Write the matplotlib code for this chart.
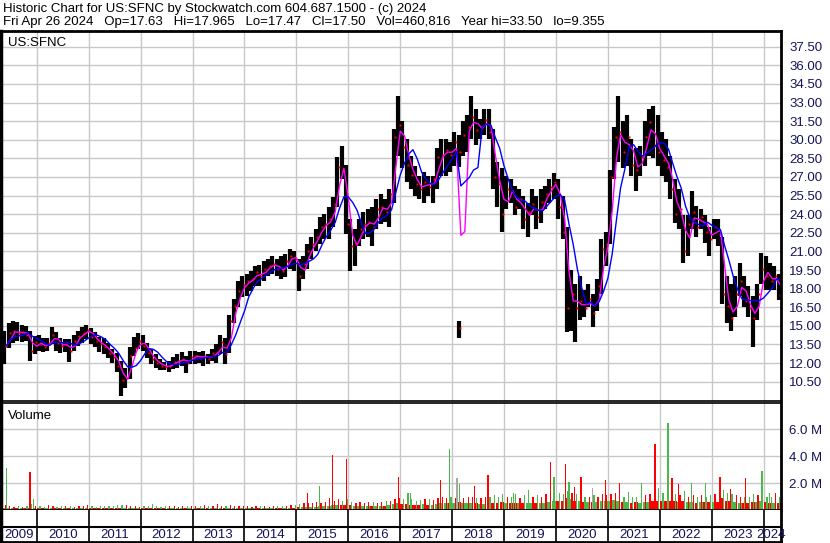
import numpy as np
import pandas as pd
import matplotlib
matplotlib.use("Agg")
import matplotlib.pyplot as plt

plt.rcParams["font.family"] = ["Liberation Sans", "DejaVu Sans"]

# monthly bars, May 2009 .. Apr 2024
hi = [14.6, 15.2, 15.4, 15.3, 15.1, 15.0, 14.6, 14.2,
      14.3, 14.0, 14.0, 14.9, 14.5, 14.0, 13.9, 13.9, 14.3, 14.6, 14.9, 15.1,
      14.8, 14.5, 14.1, 14.0, 13.6, 13.1, 12.8, 12.2, 11.6, 13.3, 14.1, 14.4,
      14.3, 13.6, 13.1, 12.7, 12.3, 12.1, 12.2, 12.5, 12.7, 12.9, 12.6, 13.0,
      13.0, 12.9, 13.0, 12.7, 13.1, 13.5, 14.3, 14.0, 15.9, 17.2, 18.6, 19.0,
      19.2, 19.4, 19.8, 19.9, 20.2, 20.4, 20.6, 20.4, 20.6, 20.8, 21.2, 21.0,
      20.4, 20.6, 21.6, 22.2, 22.8, 23.8, 24.0, 24.6, 25.4, 28.6, 29.5, 28.0,
      23.6, 22.8, 23.6, 24.2, 24.4, 24.6, 25.2, 25.6, 25.2, 26.0, 30.9, 33.5,
      31.5, 30.1, 28.7, 27.9, 27.1, 27.4, 27.1, 27.1, 29.3, 30.1, 30.1, 29.8,
      30.6, 30.4, 31.5, 32.0, 33.5, 32.5, 31.7, 32.5, 32.5, 30.9, 28.2, 27.7,
      27.1, 26.8, 26.3, 26.0, 25.5, 24.9, 26.0, 25.5, 26.0, 26.3, 26.8, 27.3,
      26.8, 25.5, 23.0, 19.5, 18.4, 19.0, 17.9, 18.4, 17.6, 18.8, 22.0, 22.6,
      27.6, 31.0, 33.5, 31.5, 32.0, 30.1, 29.3, 29.5, 31.5, 32.5, 32.7, 32.0,
      30.6, 30.1, 28.7, 26.8, 26.0, 23.9, 23.9, 25.9, 24.7, 24.4, 23.9, 23.0,
      23.6, 23.6, 22.2, 19.0, 18.4, 19.0, 20.1, 19.0, 18.2, 17.4, 18.4, 20.9,
      20.6, 20.1, 19.8, 19.2]
lo = [11.9, 13.2, 13.6, 13.8, 13.7, 13.8, 12.2, 12.7,
      13.0, 12.9, 13.0, 13.5, 13.0, 12.8, 12.9, 12.1, 13.0, 13.4, 13.6, 13.9,
      13.5, 13.3, 12.9, 12.7, 12.4, 12.0, 11.3, 9.355, 10.0, 10.7, 12.6, 13.1,
      13.0, 12.4, 11.9, 11.6, 11.4, 11.4, 11.3, 11.5, 11.6, 11.8, 11.2, 11.9,
      11.9, 12.0, 11.8, 11.9, 12.2, 12.0, 12.7, 11.9, 12.8, 15.2, 16.5, 17.3,
      17.4, 17.8, 18.2, 18.2, 18.6, 19.0, 19.2, 19.0, 18.8, 18.9, 19.6, 19.4,
      17.8, 18.8, 19.6, 20.4, 21.0, 21.6, 22.0, 22.0, 23.0, 24.6, 26.8, 22.4,
      19.4, 19.8, 21.4, 22.0, 22.2, 21.4, 22.8, 23.2, 23.4, 23.0, 24.9, 28.7,
      27.7, 26.6, 26.0, 25.5, 25.2, 24.9, 25.5, 24.9, 26.0, 27.1, 27.1, 27.4,
      27.9, 27.8, 28.7, 29.0, 30.1, 29.6, 30.1, 30.4, 30.1, 26.0, 24.6, 22.6,
      24.4, 24.9, 23.9, 24.4, 22.8, 22.2, 23.9, 22.8, 23.3, 24.4, 24.9, 25.2,
      23.6, 22.0, 14.5, 14.6, 13.7, 15.5, 15.7, 16.5, 14.9, 16.2, 17.6, 19.8,
      21.6, 26.8, 28.2, 27.7, 27.9, 27.1, 25.9, 27.1, 27.9, 28.7, 28.5, 27.9,
      27.1, 26.6, 25.2, 23.3, 22.8, 20.1, 20.6, 22.8, 22.2, 22.8, 21.7, 20.6,
      22.0, 21.4, 16.8, 15.2, 14.6, 15.7, 17.4, 16.5, 15.7, 13.3, 15.5, 18.4,
      17.9, 17.9, 17.9, 17.1]
cl = [13.4, 14.4, 14.6, 14.4, 14.5, 14.3, 13.0, 13.7,
      13.5, 13.3, 13.6, 14.3, 13.6, 13.4, 13.5, 13.0, 13.8, 14.2, 14.4, 14.7,
      14.1, 13.8, 13.5, 13.3, 12.8, 12.5, 11.8, 10.6, 10.8, 12.6, 13.2, 13.8,
      13.4, 12.8, 12.3, 12.0, 11.8, 11.7, 11.8, 12.1, 12.2, 12.3, 12.0, 12.5,
      12.6, 12.4, 12.6, 12.3, 12.8, 12.9, 13.7, 12.7, 15.4, 16.6, 17.8, 18.3,
      18.6, 18.8, 19.3, 19.0, 19.6, 19.8, 20.0, 19.6, 19.4, 20.2, 20.6, 20.4,
      19.0, 20.0, 21.0, 21.6, 22.2, 23.0, 23.2, 23.6, 24.8, 27.8, 27.6, 23.2,
      21.4, 21.6, 22.8, 23.2, 23.4, 23.0, 24.4, 24.6, 24.2, 25.6, 30.2, 31.2,
      29.4, 28.0, 27.2, 26.4, 26.0, 26.6, 26.2, 26.8, 28.6, 28.8, 29.2, 28.8,
      29.8, 29.0, 30.4, 31.0, 31.8, 30.8, 31.0, 31.6, 30.6, 27.0, 26.4, 24.0,
      26.0, 25.8, 24.6, 25.2, 23.6, 24.2, 24.8, 23.8, 25.0, 25.6, 26.2, 26.6,
      24.6, 22.6, 16.4, 17.6, 16.4, 17.0, 16.4, 17.2, 16.0, 18.2, 21.2, 21.6,
      27.0, 30.2, 30.6, 29.0, 30.2, 28.0, 27.6, 28.6, 30.2, 31.4, 29.6, 29.0,
      28.4, 27.8, 26.0, 24.0, 24.4, 21.0, 23.2, 24.2, 23.0, 23.8, 22.6, 22.0,
      23.0, 22.4, 17.6, 16.6, 15.6, 17.6, 18.6, 17.0, 16.4, 15.6, 17.6, 19.6,
      19.0, 18.6, 19.0, 17.5]

# bad prints in Feb 2018 (hi, lo, close)
bad_month = "2018-02"
bad_hi, bad_lo, bad_cl = 15.4, 14.0, 14.8

# monthly typical volume and busiest ordinary day (millions)
vol = [0.15, 0.15, 0.12, 0.12, 0.12, 0.12, 0.15, 0.12,
       0.12, 0.12, 0.12, 0.12, 0.12, 0.12, 0.12, 0.12, 0.12, 0.12, 0.12, 0.12,
       0.12, 0.12, 0.12, 0.12, 0.12, 0.12, 0.15, 0.18, 0.15, 0.12, 0.12, 0.12,
       0.12, 0.12, 0.12, 0.12, 0.12, 0.12, 0.12, 0.12, 0.12, 0.12, 0.12, 0.12,
       0.12, 0.12, 0.12, 0.12, 0.12, 0.12, 0.12, 0.15, 0.15, 0.15, 0.15, 0.15,
       0.15, 0.15, 0.15, 0.15, 0.15, 0.15, 0.15, 0.15, 0.15, 0.18, 0.18, 0.18,
       0.25, 0.25, 0.25, 0.25, 0.25, 0.3, 0.3, 0.3, 0.35, 0.4, 0.35, 0.4,
       0.35, 0.3, 0.3, 0.3, 0.3, 0.3, 0.3, 0.3, 0.3, 0.35, 0.45, 0.5,
       0.45, 0.45, 0.4, 0.4, 0.4, 0.45, 0.4, 0.4, 0.45, 0.5, 0.5, 0.5,
       0.5, 0.6, 0.5, 0.5, 0.5, 0.5, 0.45, 0.45, 0.5, 0.55, 0.55, 0.6,
       0.55, 0.5, 0.5, 0.5, 0.55, 0.55, 0.5, 0.55, 0.55, 0.55, 0.6, 0.65,
       0.65, 0.7, 0.9, 0.8, 0.7, 0.65, 0.6, 0.6, 0.6, 0.6, 0.7, 0.65,
       0.7, 0.75, 0.7, 0.6, 0.6, 0.55, 0.6, 0.55, 0.6, 0.6, 0.65, 0.7,
       0.7, 0.7, 0.7, 0.65, 0.6, 0.7, 0.6, 0.6, 0.55, 0.6, 0.6, 0.6,
       0.6, 0.6, 0.9, 0.7, 0.65, 0.6, 0.55, 0.55, 0.55, 0.6, 0.6, 0.65,
       0.6, 0.55, 0.55, 0.5]
vol_peak = [0.35, 0.3, 0.25, 0.3, 0.25, 0.3, 0.45, 0.3,
            0.3, 0.25, 0.35, 0.3, 0.25, 0.3, 0.3, 0.3, 0.25, 0.3, 0.3, 0.35,
            0.3, 0.25, 0.3, 0.3, 0.3, 0.3, 0.35, 0.4, 0.35, 0.3, 0.3, 0.25,
            0.3, 0.3, 0.45, 0.3, 0.25, 0.3, 0.3, 0.3, 0.25, 0.3, 0.3, 0.3,
            0.3, 0.3, 0.35, 0.3, 0.3, 0.45, 0.3, 0.3, 0.35, 0.3, 0.3, 0.3,
            0.3, 0.25, 0.3, 0.3, 0.3, 0.25, 0.3, 0.3, 0.3, 0.3, 0.35, 0.35,
            0.45, 0.5, 0.55, 0.5, 0.6, 0.55, 0.6, 0.9, 0.7, 0.8, 0.7, 0.8,
            0.6, 0.55, 0.6, 0.55, 0.6, 0.6, 0.55, 0.6, 0.65, 0.7, 0.8, 0.9,
            0.8, 1.3, 0.8, 0.7, 0.75, 0.8, 0.8, 0.75, 0.9, 1.0, 0.9, 1.0,
            0.9, 1.1, 0.9, 1.0, 1.0, 0.9, 0.9, 1.0, 1.0, 1.1, 1.0, 1.2,
            1.0, 1.0, 1.2, 0.9, 1.1, 1.3, 1.0, 1.1, 1.0, 1.2, 1.3, 1.4,
            1.3, 1.2, 1.4, 1.3, 1.2, 1.1, 1.0, 1.0, 1.1, 1.0, 1.2, 1.1,
            1.2, 1.3, 1.1, 1.0, 1.2, 1.0, 1.0, 1.0, 1.1, 1.2, 1.3, 1.6,
            1.3, 1.4, 1.3, 1.2, 1.1, 1.4, 1.0, 1.1, 1.0, 1.1, 1.0, 1.1,
            1.2, 1.1, 1.5, 1.3, 1.2, 1.1, 1.0, 1.0, 1.0, 1.2, 1.1, 1.3,
            1.0, 1.0, 1.3, 1.0]

# single-day volume spikes: (date, millions, colour)
spike_date = ["2009-06-01", "2009-11-15", "2009-12-10", "2015-03-20", "2015-06-15",
              "2015-09-12", "2015-12-20", "2016-12-18", "2017-03-15", "2017-10-12",
              "2017-12-15", "2018-02-05", "2018-02-20", "2018-06-05", "2018-09-10",
              "2019-03-08", "2019-06-20", "2019-11-25", "2019-12-18", "2020-03-08",
              "2020-04-01", "2020-05-10", "2020-06-25", "2020-09-12", "2020-12-15",
              "2021-03-25", "2021-05-25", "2021-08-25", "2021-11-28", "2022-02-28",
              "2022-03-28", "2022-05-15", "2022-08-10", "2022-11-18", "2023-03-01",
              "2023-05-15", "2023-08-25", "2023-12-20", "2024-02-10"]
spike_vol = [3.15, 2.84, 0.8, 1.24, 1.8, 4.08, 3.77, 2.45, 1.3, 2.2,
             4.55, 2.37, 1.94, 1.8, 2.63, 1.24, 1.47, 3.6, 2.45, 3.4,
             2.1, 1.68, 2.45, 1.6, 2.2, 2.0, 1.34, 2.0, 4.9, 6.5,
             2.37, 1.94, 2.0, 2.0, 2.45, 1.55, 2.37, 2.9, 1.3]
spike_col = ["g", "r", "g", "r", "g", "r", "r", "r", "g", "r",
             "g", "k", "g", "r", "r", "g", "g", "r", "g", "r",
             "g", "r", "r", "k", "r", "r", "g", "g", "r", "g",
             "r", "r", "g", "g", "r", "r", "r", "g", "g"]

years = list(range(2009, 2025))
price_ticks = [10.5, 12.0, 13.5, 15.0, 16.5, 18.0, 19.5, 21.0, 22.5, 24.0,
               25.5, 27.0, 28.5, 30.0, 31.5, 33.0, 34.5, 36.0, 37.5]
vol_ticks = [2.0, 4.0, 6.0]

title1 = "Historic Chart for US:SFNC by Stockwatch.com 604.687.1500 - (c) 2024"
title2 = ("Fri Apr 26 2024   Op=17.63   Hi=17.965   Lo=17.47   Cl=17.50   "
          "Vol=460,816   Year hi=33.50   lo=9.355")

COLS = {"g": "#4cb84c", "r": "#ff0000", "k": "#a8a8a8"}
GRID = "#c8c8c8"
TXT = "#14145a"


def yfrac(ts):
    ts = pd.DatetimeIndex(ts)
    return ts.year + (ts.dayofyear - 1) / 365.25


months = pd.period_range("2009-05", "2024-04", freq="M")
t = yfrac(months.to_timestamp(how="start")) + 1 / 24
df = pd.DataFrame({"hi": hi, "lo": lo, "cl": cl, "vol": vol, "peak": vol_peak},
                  index=months)
ma_src = df["cl"].copy()
ma_src[pd.Period(bad_month, "M")] = bad_cl
fast = ma_src.rolling(2, min_periods=1).mean()
slow = ma_src.rolling(5, min_periods=1).mean()
up = df["cl"].diff().fillna(0) >= 0

x0, x1 = 2009.31, 2024.335
W, H = 830, 543
fig = plt.figure(figsize=(W / 100, H / 100), dpi=100)
axp = fig.add_axes([1 / W, 1 - 401 / H, 780 / W, 370 / H])
axv = fig.add_axes([1 / W, 1 - 510 / H, 780 / W, 107 / H])
axd = fig.add_axes([1 / W, 1 - 542 / H, 780 / W, 32 / H])

# price panel
axp.vlines(t, df["lo"], df["hi"], color="black", lw=3.0)
axp.plot(t + 0.03, df["cl"], "s", color="red", ms=1.6, mec="none")
bi = months.get_loc(pd.Period(bad_month, "M"))
axp.vlines(t[bi], bad_lo, bad_hi, color="black", lw=3.0)
axp.plot(t[bi] + 0.03, bad_cl, "s", color="red", ms=1.6, mec="none")
axp.plot(t + 1 / 24, fast, color="#ff00ff", lw=1.0)
axp.plot(t + 1 / 24, slow, color="#0000ff", lw=1.0)
axp.set_ylim(8.94, 38.77)
axp.set_yticks(price_ticks)
axp.set_yticklabels([f"{v:.2f}" for v in price_ticks])
axp.text(0.009, 0.985, "US:SFNC", transform=axp.transAxes, ha="left", va="top",
         fontsize=9.5, color="black")

# volume panel
vcol = np.where(up, COLS["g"], COLS["r"])
pcol = np.where(up, COLS["r"], COLS["g"])
axv.bar(t, df["vol"], width=1 / 12 * 0.9, color=vcol)
axv.bar(t + 1 / 48, df["peak"], width=1 / 12 * 0.3, color=pcol)
st = yfrac(pd.to_datetime(spike_date))
axv.bar(st, spike_vol, width=0.025, color=[COLS[c] for c in spike_col])
axv.set_ylim(0, 7.95)
axv.set_yticks(vol_ticks)
axv.set_yticklabels([f"{v:.1f} M" for v in vol_ticks])
axv.text(0.009, 0.93, "Volume", transform=axv.transAxes, ha="left", va="top",
         fontsize=9.5, color="black")

for ax in (axp, axv):
    ax.set_xlim(x0, x1)
    ax.set_xticks(years[1:])
    ax.tick_params(axis="x", length=0, labelbottom=False)
    ax.yaxis.tick_right()
    ax.tick_params(axis="y", length=0, pad=6, labelsize=9.5, labelcolor=TXT)
    ax.grid(True, color=GRID, lw=1)
    ax.set_axisbelow(True)
    for s in ax.spines.values():
        s.set_color("black")
    ax.spines["left"].set_linewidth(2.5)
    ax.spines["right"].set_linewidth(2)
axp.spines["top"].set_linewidth(2)
axp.spines["bottom"].set_linewidth(1.2)
axv.spines["top"].set_linewidth(1.2)
axv.spines["bottom"].set_linewidth(2)

# date strip
axd.set_xlim(x0, x1)
axd.set_ylim(0, 1)
axd.set_xticks([])
axd.set_yticks([])
for s in axd.spines.values():
    s.set_color("black")
axd.spines["left"].set_linewidth(2.5)
axd.spines["right"].set_linewidth(2)
axd.spines["bottom"].set_linewidth(2)
axd.spines["top"].set_visible(False)
axd.axhline(15 / 32, color="black", lw=1.5)
for y in years[1:]:
    axd.axvline(y, color="black", lw=1.2)
for y in years:
    a, b = max(y, x0), min(y + 1, x1)
    c = (a + b) / 2 if y < 2024 else x1 - 0.2
    axd.text(c, 0.22, str(y), ha="center", va="center", fontsize=9.5, color=TXT,
             clip_on=False)

fig.text(3 / W, 1 - 9 / H, title1, ha="left", va="center", fontsize=9.5)
fig.text(3 / W, 1 - 22 / H, title2, ha="left", va="center", fontsize=9.5)

fig.savefig("out.png", dpi=100)
